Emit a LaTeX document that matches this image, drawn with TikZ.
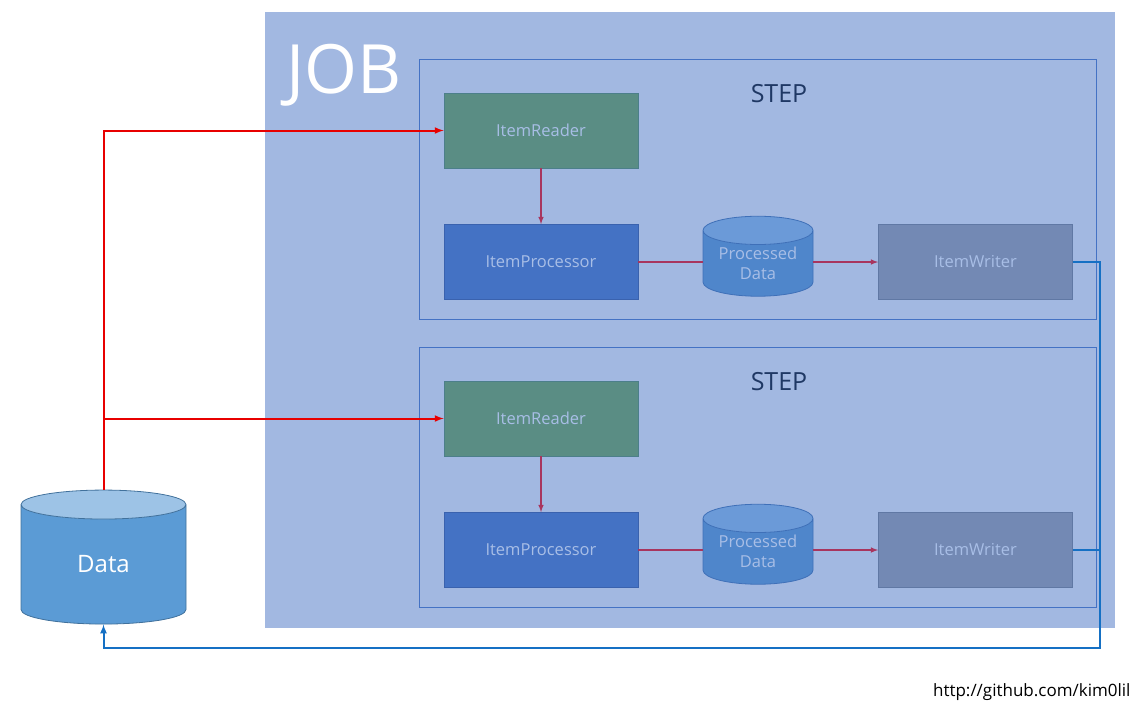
\documentclass[tikz,border=0pt]{standalone}
\usepackage{fontspec}
\setmainfont{Open Sans}
\usetikzlibrary{shapes.geometric}

\definecolor{jobfill}{HTML}{A2B8E1}
\definecolor{stepline}{HTML}{4472C4}
\definecolor{steptext}{HTML}{1F3864}
\definecolor{readerfill}{HTML}{5A8D84}
\definecolor{readerline}{HTML}{4C7F8A}
\definecolor{procfill}{HTML}{4472C4}
\definecolor{procline}{HTML}{3A62AE}
\definecolor{pdbody}{HTML}{4F86CB}
\definecolor{pdtop}{HTML}{6B9AD8}
\definecolor{pdline}{HTML}{3F70B8}
\definecolor{writerfill}{HTML}{7389B4}
\definecolor{writerline}{HTML}{6078A4}
\definecolor{boxtext}{HTML}{A8BEE6}
\definecolor{flowred}{HTML}{A8355E}
\definecolor{fetchred}{HTML}{E80000}
\definecolor{saveblue}{HTML}{1570C4}
\definecolor{databody}{HTML}{5B9BD5}
\definecolor{datatop}{HTML}{9DC3E6}
\definecolor{dataline}{HTML}{41719C}

\begin{document}
\begin{tikzpicture}[x=1pt,y=-1pt]
\tikzstyle{box}=[draw,line width=0.8pt,minimum width=194pt,minimum height=75pt,text=boxtext,font=\fontsize{16.5}{18}\selectfont]
\tikzstyle{reader}=[box,fill=readerfill,draw=readerline]
\tikzstyle{proc}=[box,fill=procfill,draw=procline]
\tikzstyle{writer}=[box,fill=writerfill,draw=writerline]
\tikzstyle{store}=[cylinder,shape border rotate=90,draw,line width=0.8pt,inner sep=0pt,cylinder uses custom fill,align=center]
\tikzstyle{pdata}=[store,cylinder body fill=pdbody,cylinder end fill=pdtop,draw=pdline,minimum width=110pt,minimum height=80pt,aspect=0.36,text=boxtext,font=\fontsize{16.5}{20}\selectfont]
\tikzstyle{stepbox}=[draw=stepline,line width=0.8pt]
\tikzstyle{flow}=[draw=flowred,line width=1.5pt]

\useasboundingbox (0,0) rectangle (1147,716);

% job area
\fill [jobfill] (265,12) rectangle (1115,628);
\node (job) [anchor=base west,text=white,inner sep=0pt,font=\fontsize{68}{68}\selectfont] at (286,93) {JOB};

% first step
\draw [stepbox] (419,59) rectangle (1096,319);
\node (step1) [text=steptext,font=\fontsize{25}{25}\selectfont] at (779,94) {STEP};
\node (reader1) [reader] at (541,130.5) {ItemReader};
\node (proc1) [proc] at (541,262) {ItemProcessor};
\node (pdata1) [pdata] at (758,263.5) {Processed\\Data};
\node (writer1) [writer] at (975.5,262) {ItemWriter};

% second step
\draw [stepbox] (419,347) rectangle (1096,607);
\node (step2) [text=steptext,font=\fontsize{25}{25}\selectfont] at (779,382) {STEP};
\node (reader2) [reader] at (541,418.5) {ItemReader};
\node (proc2) [proc] at (541,550) {ItemProcessor};
\node (pdata2) [pdata] at (758,551.5) {Processed\\Data};
\node (writer2) [writer] at (975.5,550) {ItemWriter};

\draw [flow,-latex] (reader1) -- (proc1);
\draw [flow] (proc1.east) -- (proc1.east -| pdata1.west);
\draw [flow,-latex] (writer1.west -| pdata1.east) -- (writer1.west);
\draw [flow,-latex] (reader2) -- (proc2);
\draw [flow] (proc2.east) -- (proc2.east -| pdata2.west);
\draw [flow,-latex] (writer2.west -| pdata2.east) -- (writer2.west);

% source data
\node (data) [store,cylinder body fill=databody,cylinder end fill=datatop,draw=dataline,minimum width=165pt,minimum height=134pt,aspect=0.55,text=white,font=\fontsize{24}{24}\selectfont] at (103.5,564.5) {Data};

\draw [draw=fetchred,line width=2pt,-latex] (data.north) |- (reader1.west);
\draw [draw=fetchred,line width=2pt,-latex] (data.north |- reader2.west) -- (reader2.west);

\coordinate (back) at (1100,648);
\draw [draw=saveblue,line width=2pt,-latex] (writer1.east) -| (back) -| (data.south);
\draw [draw=saveblue,line width=2pt] (writer2.east) -- (writer2.east -| back);

\node (url) [anchor=east,font=\fontsize{17}{17}\selectfont] at (1134,692) {http://github.com/kim0lil};
\end{tikzpicture}
\end{document}
